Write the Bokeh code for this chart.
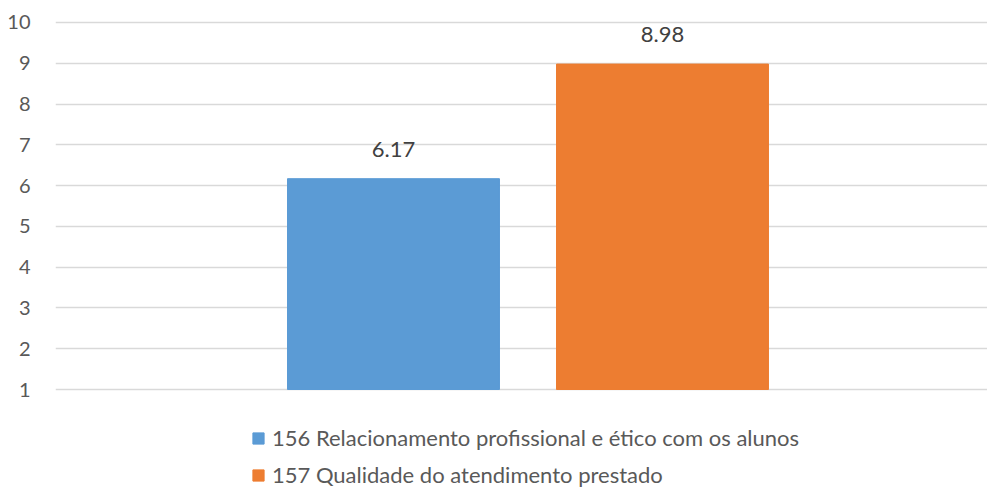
from bokeh.plotting import figure
from bokeh.models import ColumnDataSource, Range1d, Legend, LegendItem, FixedTicker
from bokeh.core.properties import value
from bokeh.embed import file_html
from bokeh.resources import INLINE

labels = ["156 Relacionamento profissional e ético com os alunos",
          "157 Qualidade do atendimento prestado"]
values = [6.17, 8.98]
colors = ["#5B9BD5", "#ED7D31"]
y_ticks = [1, 2, 3, 4, 5, 6, 7, 8, 9, 10]
axis_min = 1

FONT = "Lato"
xs = list(range(len(values)))
src = ColumnDataSource(dict(x=xs, top=values, color=colors, label=labels,
                            txt=[f"{v:.2f}" for v in values]))

p = figure(width=987, height=490, output_backend="svg", toolbar_location=None,
           x_range=Range1d(-1.2565, 2.2082), y_range=Range1d(-1.4767, 10.049),
           min_border_left=55, min_border_right=0, min_border_top=20,
           min_border_bottom=0)
p.outline_line_color = None
p.xaxis.visible = False
p.xgrid.grid_line_color = None
p.ygrid.grid_line_color = "#D9D9D9"
p.ygrid.grid_line_width = 1.5
p.yaxis.ticker = FixedTicker(ticks=y_ticks)
p.ygrid.ticker = FixedTicker(ticks=y_ticks)
p.yaxis.axis_line_color = None
p.yaxis.major_tick_line_color = None
p.yaxis.minor_tick_line_color = None
p.yaxis.major_label_standoff = 19
p.yaxis.major_label_text_font = FONT
p.yaxis.major_label_text_font_size = "20px"
p.yaxis.major_label_text_color = "#595959"

r = p.vbar(x="x", top="top", bottom=axis_min, width=0.788, color="color", source=src)
p.text(x="x", y="top", text="txt", source=src, text_align="center",
       text_baseline="bottom", y_offset=-22, text_font=value(FONT),
       text_font_size="22px", text_color="#404040")

items = [LegendItem(label=labels[i], renderers=[r], index=i) for i in range(len(labels))]
legend = Legend(items=items, location=(196, 2), orientation="vertical",
                glyph_width=14, glyph_height=14, label_height=20, spacing=10,
                label_standoff=7, padding=0, margin=0,
                border_line_color=None, background_fill_alpha=0,
                label_text_font=FONT, label_text_font_size="22px",
                label_text_color="#595959")
p.add_layout(legend, "center")

open("out.html", "w").write(file_html(p, INLINE))
